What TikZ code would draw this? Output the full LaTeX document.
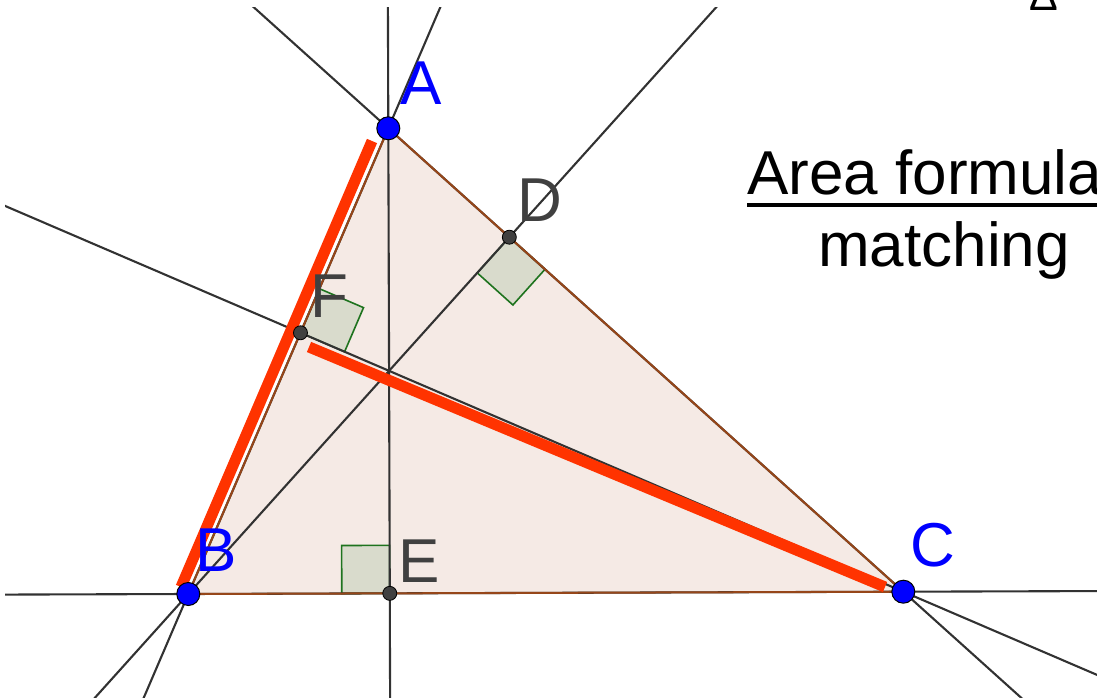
\documentclass[tikz,border=0pt]{standalone}
\usepackage{fontspec}
\setmainfont{Liberation Sans}
\usetikzlibrary{calc}
\definecolor{glinec}{RGB}{50,50,50}
\definecolor{edgec}{RGB}{150,70,25}
\definecolor{fillc}{RGB}{245,234,229}
\definecolor{angedge}{RGB}{30,115,30}
\definecolor{angfill}{RGB}{217,219,204}
\definecolor{hilite}{RGB}{255,51,0}
\definecolor{ptblue}{RGB}{0,0,255}
\definecolor{labgray}{RGB}{64,64,64}
\tikzset{
  gline/.style={draw=glinec, line width=2.1pt},
  triedge/.style={draw=edgec, line width=2pt, line join=round},
  trifill/.style={fill=fillc},
  rightang/.style={draw=angedge, fill=angfill, line width=1.6pt},
  redbar/.style={draw=hilite, line width=11pt},
  vtx/.style={circle, fill=ptblue, draw=black, line width=1pt, minimum size=23pt, inner sep=0pt},
  foot/.style={circle, fill=labgray, draw=black, line width=0.8pt, minimum size=14pt, inner sep=0pt},
  vlab/.style={text=ptblue, anchor=base west, inner sep=0pt, font=\fontsize{62}{62}\selectfont},
  flab/.style={text=labgray, anchor=base west, inner sep=0pt, font=\fontsize{62}{62}\selectfont},
  bigtxt/.style={anchor=base west, inner sep=0pt, font=\fontsize{62}{62}\selectfont}
}
\begin{document}
\begin{tikzpicture}[x=1pt,y=-1pt]
\useasboundingbox (0,0) rectangle (1097,700);
% vertices and feet of altitudes
\coordinate (A) at (388.3,128.3);
\coordinate (B) at (188.3,594);
\coordinate (C) at (903.3,591.7);
\coordinate (D) at ($(A)!(B)!(C)$);
\coordinate (E) at ($(B)!(A)!(C)$);
\coordinate (F) at ($(A)!(C)!(B)$);
% triangle fill
\fill[trifill] (A) -- (B) -- (C) -- cycle;
% right-angle markers
\coordinate (d1) at ($(D)!48pt!(C)$);
\coordinate (d2) at ($(D)!48pt!(B)$);
\coordinate (e1) at ($(E)!48pt!(B)$);
\coordinate (e2) at ($(E)!48pt!(A)$);
\coordinate (f1) at ($(F)!48pt!(C)$);
\coordinate (f2) at ($(F)!48pt!(A)$);
\draw[rightang] (D) -- (d1) -- ($(d1)+(d2)-(D)$) -- (d2) -- cycle;
\draw[rightang] (E) -- (e1) -- ($(e1)+(e2)-(E)$) -- (e2) -- cycle;
\draw[rightang] (F) -- (f1) -- ($(f1)+(f2)-(F)$) -- (f2) -- cycle;
% extended lines
\begin{scope}
\clip (5,8) rectangle (1097,697);
\draw[gline] ($(A)!-6!(B)$) -- ($(A)!6!(B)$);
\draw[gline] ($(A)!-6!(C)$) -- ($(A)!6!(C)$);
\draw[gline] ($(B)!-6!(C)$) -- ($(B)!6!(C)$);
\draw[gline] ($(A)!-6!(E)$) -- ($(A)!6!(E)$);
\draw[gline] ($(B)!-6!(D)$) -- ($(B)!6!(D)$);
\draw[gline] ($(C)!-6!(F)$) -- ($(C)!6!(F)$);
\end{scope}
% triangle edges
\draw[triedge] (A) -- (B) -- (C) -- cycle;
% red highlighted segments
\coordinate (r1a) at (372,141);
\coordinate (r1b) at (181,587);
\coordinate (r2a) at (309,347);
\coordinate (r2b) at (885,587);
\draw[redbar] (r1a) -- (r1b);
\draw[redbar] (r2a) -- (r2b);
% points
\node[vtx] (pA) at (A) {};
\node[vtx] (pB) at (B) {};
\node[vtx] (pC) at (C) {};
\node[foot] (pD) at (D) {};
\node[foot] (pE) at (E) {};
\node[foot] (pF) at (F) {};
% labels
\node[vlab] (lA) at (400,105) {A};
\node[vlab] (lB) at (195.5,571) {B};
\node[vlab] (lC) at (910,566) {C};
\node[flab] (lD) at (517,222) {D};
\node[flab] (lE) at (398,582) {E};
\node[flab] (lF) at (310,318) {F};
% slide text
\node[bigtxt] (t1) at (747,195) {Area formula};
\draw[line width=3.5pt] ($(t1.base west)+(0,10)$) -- ($(t1.base east)+(0,10)$);
\node[bigtxt] (t2) at (818,267) {matching};
\node[anchor=base west, inner sep=0pt, font=\fontsize{43}{43}\selectfont] (t0) at (1029,11) {Δ};
\end{tikzpicture}
\end{document}
